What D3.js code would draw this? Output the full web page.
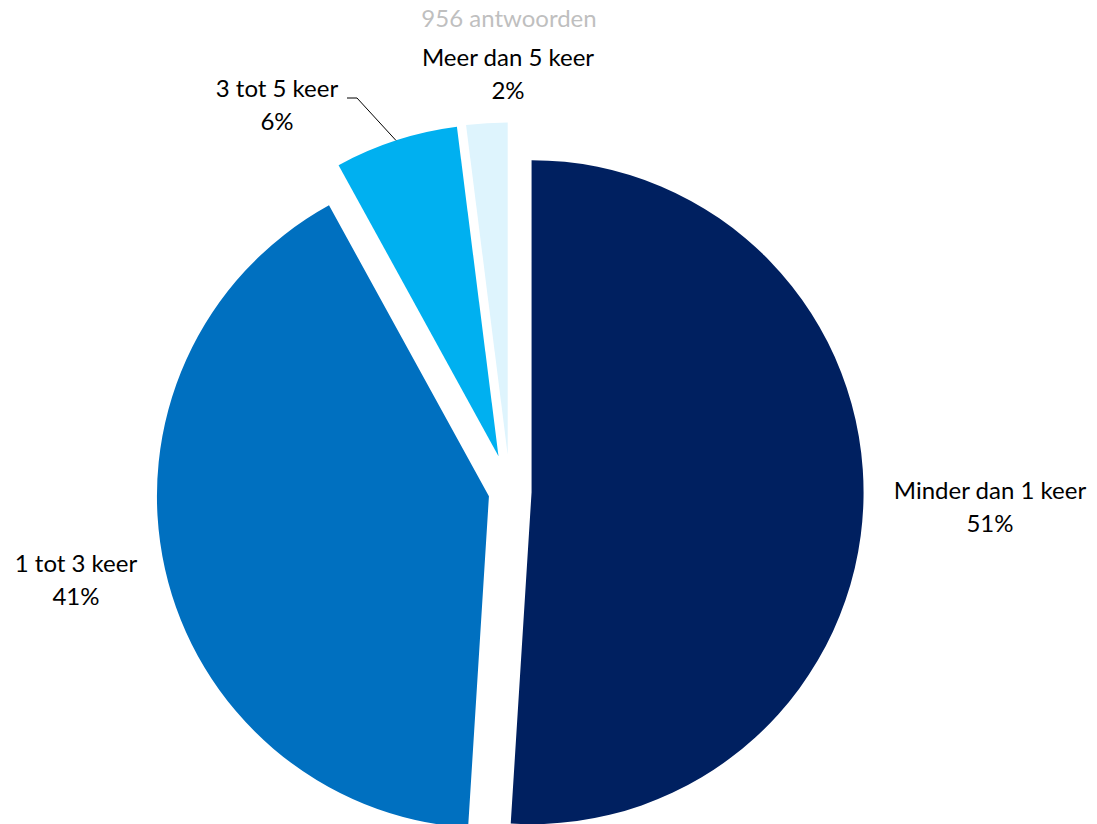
<!DOCTYPE html>
<html>
<head>
<meta charset="utf-8">
<script src="https://cdn.jsdelivr.net/npm/d3@7"></script>
<style>
  html, body { margin: 0; padding: 0; background: #ffffff; }
  svg { display: block; }
  text { font-family: Lato, "Open Sans", sans-serif; }
</style>
</head>
<body>
<svg id="chart" width="1097" height="824"></svg>
<script>
// ---- data ----
const categories = ["Minder dan 1 keer", "1 tot 3 keer", "3 tot 5 keer", "Meer dan 5 keer"];
const values = [51, 41, 6, 2];
const percentLabels = ["51%", "41%", "6%", "2%"];
const subtitle = "956 antwoorden";

// ---- styles / layout ----
const colors = ["#002060", "#0070C0", "#00B0F0", "#DEF4FD"];
const explode = [0.065, 0.065, 0.112, 0.112]; // fraction of radius
const W = 1097, H = 824;
const cx = 510, cy = 491.5, R = 332;
const fontSize = 24;
const lineGap = 33;
// label anchor (center x, first-line baseline y)
const labelPos = [
  [990, 499],
  [76, 572],
  [277, 97],
  [508, 66]
];

const svg = d3.select("#chart");

const data = categories.map((c, i) => ({ cat: c, value: values[i], pct: percentLabels[i], i }));
const pie = d3.pie().sort(null).value(d => d.value).startAngle(0).endAngle(2 * Math.PI);
const arcs = pie(data);
const arc = d3.arc().innerRadius(0).outerRadius(R);

function offsetOf(a, i) {
  const mid = (a.startAngle + a.endAngle) / 2;
  const d = explode[i] * R;
  return [cx + d * Math.sin(mid), cy - d * Math.cos(mid)];
}

const g = svg.append("g");
g.selectAll("path.slice")
  .data(arcs)
  .join("path")
  .attr("class", "slice")
  .attr("transform", (a, i) => { const o = offsetOf(a, i); return `translate(${o[0]},${o[1]})`; })
  .attr("d", arc)
  .attr("fill", (a, i) => colors[i]);

// leader line for "3 tot 5 keer"
{
  const a = arcs[2];
  const o = offsetOf(a, 2);
  const mid = (a.startAngle + a.endAngle) / 2;
  const ex = o[0] + R * Math.sin(mid), ey = o[1] - R * Math.cos(mid);
  const lp = labelPos[2];
  const line = d3.line();
  svg.append("path")
    .attr("d", line([[lp[0] + 70, lp[1] + 1], [lp[0] + 80, lp[1] + 1], [ex, ey]]))
    .attr("fill", "none")
    .attr("stroke", "#000")
    .attr("stroke-width", 1);
}

// labels
const lab = svg.selectAll("g.label")
  .data(arcs)
  .join("g")
  .attr("class", "label");
lab.append("text")
  .attr("x", (a, i) => labelPos[i][0])
  .attr("y", (a, i) => labelPos[i][1])
  .attr("text-anchor", "middle")
  .attr("font-size", fontSize)
  .attr("fill", "#000")
  .text(a => a.data.cat);
lab.append("text")
  .attr("x", (a, i) => labelPos[i][0])
  .attr("y", (a, i) => labelPos[i][1] + lineGap)
  .attr("text-anchor", "middle")
  .attr("font-size", fontSize)
  .attr("fill", "#000")
  .text(a => a.data.pct);

// subtitle
svg.append("text")
  .attr("x", 509)
  .attr("y", 27)
  .attr("text-anchor", "middle")
  .attr("font-size", fontSize)
  .attr("fill", "#BFBFBF")
  .text(subtitle);
</script>
</body>
</html>
